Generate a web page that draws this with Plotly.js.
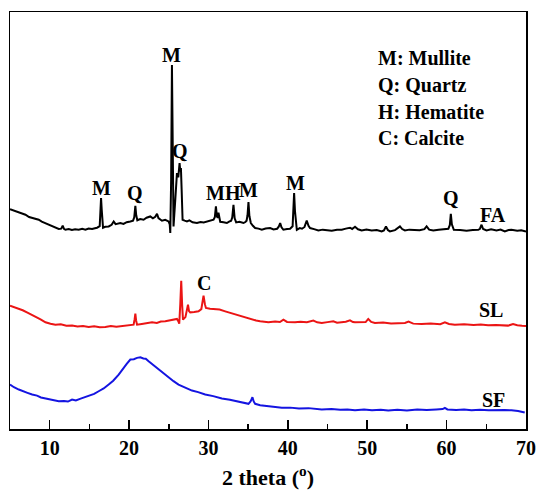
<!DOCTYPE html>
<html>
<head>
<meta charset="utf-8">
<script src="https://cdn.plot.ly/plotly-3.0.1.min.js"></script>
<style>html,body{margin:0;padding:0;background:#fff;}#chart{width:540px;height:490px;}</style>
</head>
<body>
<div id="chart"></div>
<script>
// 2-theta (degrees) and intensity (a.u., vertically offset) for each sample
const faTheta = [5.0,5.5,6.0,6.5,6.95,7.4,7.9,8.3,8.62,9.0,9.4,9.88,10.3,10.7,11.14,11.45,11.64,11.8,11.98,12.4,12.8,13.2,13.65,14.1,14.5,14.9,15.34,15.7,15.97,16.3,16.4,16.47,16.55,16.72,17.0,17.43,17.8,18.06,18.3,18.9,19.3,19.7,20.16,20.5,20.65,20.79,20.9,21.04,21.4,21.83,22.2,22.67,23.0,23.3,23.52,23.7,24.14,24.56,24.97,25.12,25.19,25.3,25.4,25.5,25.6,25.82,26.03,26.2,26.36,26.45,26.53,26.62,26.74,27.0,27.29,27.6,28.0,28.55,29.0,29.4,29.8,30.2,30.64,30.8,30.94,31.06,31.16,31.26,31.36,31.48,31.9,32.32,32.6,32.86,33.0,33.15,33.3,33.49,33.9,34.41,34.65,34.8,34.92,35.04,35.16,35.34,35.6,35.88,36.3,36.72,37.2,37.77,38.2,38.65,38.85,39.03,39.2,39.44,39.9,40.28,40.6,40.7,40.79,40.9,41.13,41.5,41.79,42.1,42.38,42.6,42.8,43.3,43.84,44.4,45.0,45.53,46.2,46.79,47.3,47.83,48.1,48.46,48.84,49.3,49.9,50.56,51.2,51.82,52.1,52.36,52.6,52.86,53.5,54.12,54.4,54.75,55.3,55.79,56.6,57.2,57.48,57.8,58.31,59.0,59.57,60.22,60.4,60.53,60.66,60.91,61.7,62.51,63.3,63.99,64.2,64.4,64.6,65.03,65.6,66.28,66.8,67.33,67.8,68.17,68.9,69.4,70.0];
const faInt = [220,218.6,217.3,215.4,214.5,212.2,211.3,210.4,209.5,207.6,206.3,204.5,203.4,201.3,200.2,200.6,203.5,200.4,199.5,200.3,199.2,199.9,199.5,200.4,199.6,200.8,200.2,201.0,201.5,203,222,231.2,220,201.5,202.4,202.8,204.5,207.8,205.1,206.2,205.3,207.1,207.8,208.6,212,223.5,214,209,210.2,209.5,211.5,212.8,210.9,212.4,215.5,211.2,208.5,209.5,207.8,205,196.2,250,364.5,240,202.8,229.5,256.2,252,266.2,258,261.2,240,209.5,208.6,207.8,208.9,206.9,206.2,207.3,206.7,207.8,208.2,209.5,212,222.8,213,211.5,216.5,212,207.5,207.0,206.2,207.6,208.5,212,224.5,211,206.8,207.4,206.2,207.2,208.5,214,227.2,213,206.2,203.5,201.2,200.6,199.5,200.7,201.2,199.8,200.5,202.5,206.2,202,199.5,200.2,200.5,203,220,236.2,218,199.5,201.2,200.5,202.3,208.8,203.5,201.2,200.1,198.8,199.6,198.7,198.5,199.4,199.5,200.6,201.5,200.3,202.5,200,198.8,199.8,198.8,199.3,197.8,198.8,202.8,199.2,197.8,199.1,202.8,200.2,198.8,199.6,199.5,199.0,200.1,202.8,199.6,198.8,199.6,200.2,200.5,204,215.5,205,199.5,199.2,198.5,199.3,199.5,200.5,204.5,200.2,198.8,199.9,198.8,199.7,197.8,199.2,199.5,198.4,199.0,197.8];

const slTheta = [5.0,5.5,6.11,6.6,7.2,7.79,8.3,8.9,9.47,10.1,10.72,11.4,12.1,12.82,13.5,14.2,14.91,15.6,16.3,17.01,17.7,18.4,19.11,19.8,20.3,20.57,20.7,20.79,20.88,21.0,21.6,22.2,22.89,23.5,24.0,24.56,25.1,25.6,26.03,26.2,26.32,26.45,26.57,26.68,26.79,27.1,27.3,27.42,27.55,27.7,28.2,28.75,29.1,29.38,29.55,29.68,30.2,30.85,31.4,32.11,32.9,33.78,34.6,35.47,36.0,36.51,37.0,37.55,38.4,39.0,39.44,39.9,40.91,41.6,42.4,43.21,43.7,44.27,45.0,45.73,46.2,46.79,47.3,47.83,48.2,48.46,49.2,49.8,50.13,50.5,50.97,52.0,53.0,54.0,54.75,55.2,55.8,56.85,58.0,59.2,59.78,60.3,61.04,62.2,63.4,64.3,65.23,66.2,67.0,67.74,68.37,68.9,69.5,70.0];
const slInt = [123.5,122.2,120.2,118.9,116.6,114.5,112.1,109.6,106.8,105.4,104.5,104.9,103.4,103.5,102.6,103.1,102.2,102.8,101.9,102.2,103.0,102.3,102.8,103.6,103.9,104.5,110,115.5,109,104.5,105.2,106.3,106.8,106.1,107.6,107.8,108.6,109.1,110.2,108,105.5,125,148.5,125,109.5,112,118,124.5,118,116.8,117.2,117.8,120,133.5,125,121.2,120.4,120.2,119.6,117.8,115.9,113.5,111.4,109.5,108.6,107.8,107.3,106.8,107.6,107.1,109.5,107.2,106.8,107.4,106.9,108.5,106.8,106.2,107.0,107.8,106.5,106.8,107.4,108.8,107.1,106.8,107.3,107.0,110.2,107.2,106.2,106.6,105.7,106.3,106.2,107.6,105.5,105.2,105.6,105.0,106.8,105.1,104.5,104.9,104.2,104.6,103.8,104.1,103.6,103.5,105.2,103.9,103.3,103.0];

const sfTheta = [5.0,5.5,6.11,6.7,7.2,7.79,8.4,8.9,9.47,10.2,10.7,11.14,11.8,12.3,12.82,13.3,13.9,14.5,15.1,15.6,16.17,16.8,17.43,18.0,18.69,19.3,19.7,20.16,20.6,21.0,21.42,21.8,22.1,22.46,23.1,23.72,24.3,24.97,25.6,26.23,27.0,27.92,28.7,29.59,30.6,31.69,32.7,33.78,34.4,35.04,35.3,35.54,35.7,35.88,36.51,37.5,38.3,39.24,40.3,41.4,42.6,43.4,44.27,45.5,46.6,47.5,48.46,49.6,50.6,51.7,52.65,53.8,55.0,56.3,57.5,58.7,59.5,59.78,60.1,61.2,62.2,63.14,64.2,65.3,66.5,67.3,68.17,69.0,69.84];
const sfInt = [44.5,41.8,39.5,38.1,36.2,34.5,33.4,31.6,30.5,29.6,28.4,27.8,28.1,27.5,29.5,28.6,30.4,31.8,33.2,35.1,37.8,40.6,44.5,48.3,54.5,60.2,65.1,69.5,69.8,71.2,71.8,70.6,70.4,67.8,63.8,59.5,55.6,51.2,47.9,44.5,41.6,38.5,36.9,34.5,32.9,30.5,29.2,27.2,26.6,25.2,27.5,31.8,27.6,25.2,23.8,23.1,22.4,21.2,21.4,20.5,20.9,19.9,19.5,20.1,19.2,19.6,18.8,19.6,18.7,19.3,18.5,19.2,18.6,19.4,18.9,19.5,20.0,21.2,19.6,19.1,19.5,18.8,19.3,18.7,19.2,18.9,18.8,18.1,16.5];

const xTickVals = [10,20,30,40,50,60,70];
const xTickText = ["10","20","30","40","50","60","70"];

// peak labels: text, 2-theta, label height
const peakText  = ["M","Q","M","Q","M","H","M","M","Q","C"];
const peakTheta = [16.47,20.79,25.4,26.45,30.85,33.15,35.04,40.91,60.53,29.38];
const peakY     = [241,236,374,278,236,236,239.5,246,231,146];

const sampleText  = ["FA","SL","SF"];
const sampleTheta = [65.86,65.65,65.86];
const sampleY     = [214.5,119.5,29.5];

const legendText = ["M: Mullite","Q: Quartz","H: Hematite","C: Calcite"];

const serif = "Liberation Serif, Times New Roman, serif";
const lblFont = {family: serif, size: 20, color: "#000"};
const b = s => "<b>" + s + "</b>";

const traces = [
  {x: faTheta, y: faInt, mode: "lines", line: {color: "#000000", width: 2}},
  {x: slTheta, y: slInt, mode: "lines", line: {color: "rgb(235,20,20)", width: 2}},
  {x: sfTheta, y: sfInt, mode: "lines", line: {color: "rgb(20,20,225)", width: 2}}
];

const annotations = [];
peakText.forEach((t, i) => annotations.push({x: peakTheta[i], y: peakY[i], text: b(t), showarrow: false, font: lblFont, xanchor: "center", yanchor: "middle"}));
sampleText.forEach((t, i) => annotations.push({x: sampleTheta[i], y: sampleY[i], text: b(t), showarrow: false, font: lblFont, xanchor: "center", yanchor: "middle"}));
legendText.forEach((t, i) => annotations.push({x: 51.1, y: 371 - i * 26.7, text: b(t), showarrow: false, font: lblFont, xanchor: "left", yanchor: "middle"}));

const layout = {
  width: 540, height: 490,
  margin: {l: 10, r: 14, t: 12, b: 61},
  paper_bgcolor: "#fff", plot_bgcolor: "#fff",
  showlegend: false,
  xaxis: {
    range: [5, 70], tickvals: xTickVals, ticktext: xTickText.map(b),
    ticks: "inside", ticklen: 9, tickwidth: 1.5, tickcolor: "#000",
    minor: {tickvals: [15,25,35,45,55,65], ticks: "inside", ticklen: 5, tickwidth: 1.5, tickcolor: "#000"},
    showline: true, linecolor: "#000", linewidth: 1.5, mirror: true,
    showgrid: false, zeroline: false,
    tickfont: {family: serif, size: 20, color: "#000"},
    title: {text: b("2 theta (<sup>o</sup>)"), font: {family: serif, size: 22, color: "#000"}, standoff: 12}
  },
  yaxis: {
    range: [0, 417.5], showticklabels: false, ticks: "",
    showline: true, linecolor: "#000", linewidth: 1.5, mirror: true,
    showgrid: false, zeroline: false
  },
  annotations: annotations
};

Plotly.newPlot("chart", traces, layout, {staticPlot: true, displayModeBar: false});
</script>
</body>
</html>
